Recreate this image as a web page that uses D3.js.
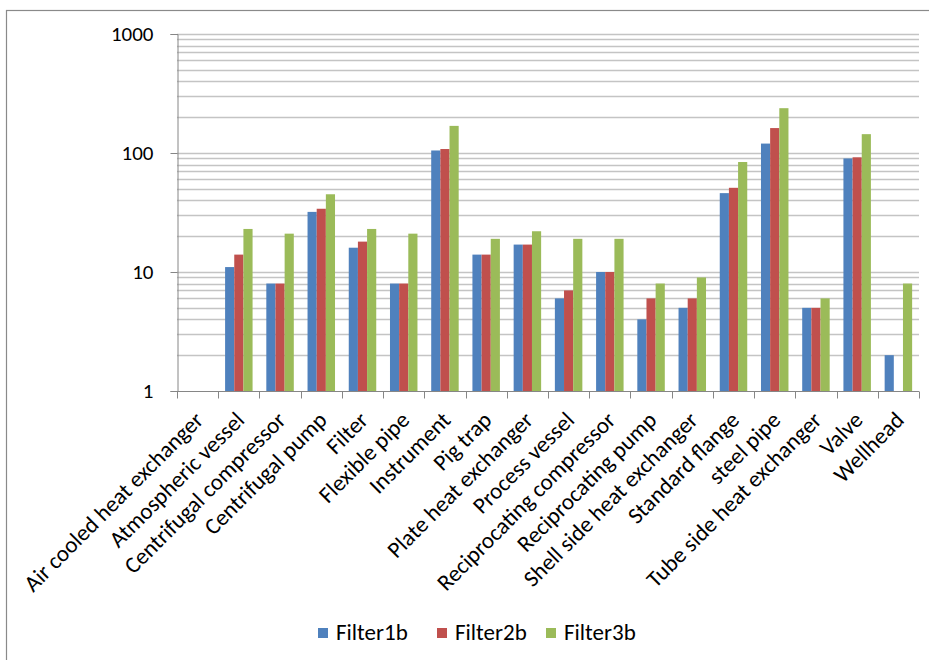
<!DOCTYPE html>
<html>
<head>
<meta charset="utf-8">
<script src="https://cdnjs.cloudflare.com/ajax/libs/d3/7.8.5/d3.min.js"></script>
<style>
  html, body { margin: 0; padding: 0; background: #fff; }
  svg { display: block; }
  text { font-family: Calibri, Carlito, Lato, "Open Sans", sans-serif; fill: #000; }
</style>
</head>
<body>
<svg id="chart" width="929" height="660"></svg>
<script>
// Equipment categories along the x axis
const categories = [
  "Air cooled heat exchanger", "Atmospheric vessel", "Centrifugal compressor",
  "Centrifugal pump", "Filter", "Flexible pipe", "Instrument", "Pig trap",
  "Plate heat exchanger", "Process vessel", "Reciprocating compressor",
  "Reciprocating pump", "Shell side heat exchanger", "Standard flange",
  "steel pipe", "Tube side heat exchanger", "Valve", "Wellhead"
];

// Counts per filter (null = no bar)
const filter1b = [null, 11, 8, 32, 16, 8, 105, 14, 17, 6, 10, 4, 5, 46, 120, 5, 90, 2];
const filter2b = [null, 14, 8, 34, 18, 8, 108, 14, 17, 7, 10, 6, 6, 51, 162, 5, 92, null];
const filter3b = [null, 23, 21, 45, 23, 21, 169, 19, 22, 19, 19, 8, 9, 84, 238, 6, 144, 8];

const seriesNames = ["Filter1b", "Filter2b", "Filter3b"];
const seriesValues = [filter1b, filter2b, filter3b];
const colors = ["#4f81bd", "#c0504d", "#9bbb59"];

const yTickValues = [1, 10, 100, 1000];

const svg = d3.select("#chart");
const plotLeft = 177, plotRight = 919, plotTop = 34, plotBottom = 391;

// Outer chart frame
svg.append("rect")
  .attr("x", 6.5).attr("y", 10.5)
  .attr("width", 940).attr("height", 700)
  .attr("fill", "none").attr("stroke", "#8a8a8a").attr("stroke-width", 1.2);

const x0 = d3.scaleBand().domain(categories).range([plotLeft, plotRight]).paddingInner(0).paddingOuter(0);
const x1 = d3.scaleBand().domain(seriesNames).range([0, x0.bandwidth()]).paddingInner(0).paddingOuter(0.75);
const y = d3.scaleLog().domain([1, 1000]).range([plotBottom, plotTop]);

// Gridlines at every log step
const gridVals = [];
for (let d = 1; d < 1000; d *= 10) {
  for (let k = 1; k <= 9; k++) gridVals.push(d * k);
}
gridVals.push(1000);
svg.append("g")
  .selectAll("line")
  .data(gridVals.filter(v => v > 1))
  .join("line")
  .attr("x1", plotLeft).attr("x2", plotRight)
  .attr("y1", d => Math.round(y(d)) + 0.5).attr("y2", d => Math.round(y(d)) + 0.5)
  .attr("stroke", "#c4c4c4").attr("stroke-width", 1.3);

// Bars
const groups = svg.append("g")
  .selectAll("g")
  .data(categories)
  .join("g")
  .attr("transform", d => `translate(${x0(d)},0)`);

groups.selectAll("rect")
  .data((d, i) => seriesNames.map((s, j) => ({ s, v: seriesValues[j][i], c: colors[j] }))
    .filter(e => e.v != null && e.v > 1))
  .join("rect")
  .attr("x", d => x1(d.s))
  .attr("width", x1.bandwidth())
  .attr("y", d => y(d.v))
  .attr("height", d => plotBottom - y(d.v))
  .attr("fill", d => d.c);

// Y axis
const yAxis = d3.axisLeft(y).tickValues(yTickValues).tickFormat(d3.format("d")).tickSize(7).tickPadding(17);
const gy = svg.append("g").attr("transform", `translate(${plotLeft + 0.5},0)`).call(yAxis);
gy.select(".domain").attr("stroke", "#868686");
gy.selectAll(".tick line").attr("stroke", "#868686");
gy.selectAll(".tick text").style("font-size", "21px").attr("fill", "#000");

// X axis with boundary ticks between categories
const gx = svg.append("g").attr("transform", `translate(0,${plotBottom + 0.5})`);
gx.append("line").attr("x1", plotLeft).attr("x2", plotRight).attr("stroke", "#868686");
const bounds = categories.map(c => x0(c)).concat([plotRight]);
gx.selectAll("line.tk")
  .data(bounds)
  .join("line")
  .attr("class", "tk")
  .attr("x1", d => Math.round(d) + 0.5).attr("x2", d => Math.round(d) + 0.5)
  .attr("y1", 0).attr("y2", 7)
  .attr("stroke", "#868686");

gx.selectAll("text")
  .data(categories)
  .join("text")
  .attr("text-anchor", "end")
  .attr("transform", d => `translate(${x0(d) + x0.bandwidth() / 2 + 7},${30}) rotate(-45)`)
  .style("font-size", "23px")
  .text(d => d);

// Legend
const legend = svg.append("g").attr("transform", "translate(318,633)");
const legX = [0, 119, 228];
seriesNames.forEach((s, i) => {
  const g = legend.append("g").attr("transform", `translate(${legX[i]},0)`);
  g.append("rect").attr("x", 0).attr("y", -5).attr("width", 10).attr("height", 10).attr("fill", colors[i]);
  g.append("text").attr("x", 18).attr("y", 7).style("font-size", "23px").text(s);
});
</script>
</body>
</html>
